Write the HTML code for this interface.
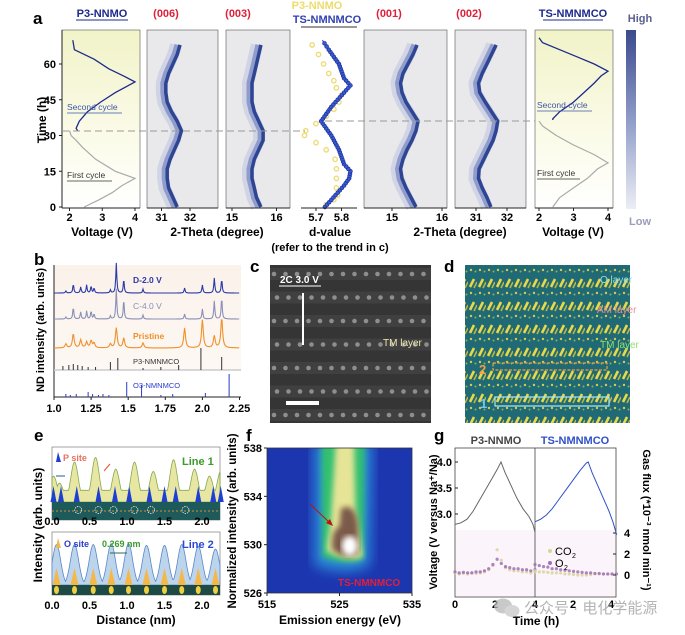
<!DOCTYPE html>
<html><head><meta charset="utf-8">
<style>
html,body{margin:0;padding:0;background:#fff;}
svg{display:block;font-family:"Liberation Sans","Noto Sans CJK SC",sans-serif;}
.b{font-weight:bold;}
</style></head>
<body>
<svg id="fig" width="685" height="635" viewBox="0 0 685 635" xmlns="http://www.w3.org/2000/svg">
<defs>
  <linearGradient id="ybg" x1="0" y1="0" x2="0" y2="1">
    <stop offset="0" stop-color="#f1f3c8"/><stop offset="0.6" stop-color="#fbfbe9"/><stop offset="1" stop-color="#ffffff"/>
  </linearGradient>
  <linearGradient id="cbar" x1="0" y1="0" x2="0" y2="1">
    <stop offset="0" stop-color="#3a4a8c"/><stop offset="0.5" stop-color="#8f9cc8"/><stop offset="1" stop-color="#eceef5"/>
  </linearGradient>
  <linearGradient id="bbg" x1="0" y1="0" x2="0" y2="1">
    <stop offset="0" stop-color="#fbf1ea"/><stop offset="1" stop-color="#fdf8f4"/>
  </linearGradient>
  <filter id="blur3"><feGaussianBlur stdDeviation="3"/></filter>
  <filter id="blur6"><feGaussianBlur stdDeviation="6"/></filter>
  <pattern id="dpat" width="9" height="23" patternUnits="userSpaceOnUse">
    <rect width="9" height="23" fill="#1f6a74"/>
    <line x1="2" y1="11" x2="6" y2="3" stroke="#e8d84a" stroke-width="2.6"/>
    <line x1="6" y1="12" x2="9" y2="6" stroke="#b8b840" stroke-width="1.6"/>
    <circle cx="3" cy="17" r="1.2" fill="#d8c850"/>
    <circle cx="7.5" cy="18.5" r="1" fill="#88b060"/>
  </pattern>
</defs>

<text x="33" y="24" font-size="17" class="b">a</text>
<g id="panelA"></g>

<text x="34" y="265" font-size="17" class="b">b</text>
<g id="panelB"></g>

<text x="250" y="272" font-size="17" class="b">c</text>
<g id="panelC"></g>

<text x="444" y="272" font-size="17" class="b">d</text>
<g id="panelD"></g>

<text x="34" y="441" font-size="17" class="b">e</text>
<g id="panelE"></g>

<text x="246" y="441" font-size="17" class="b">f</text>
<g id="panelF"></g>

<text x="434" y="441" font-size="17" class="b">g</text>
<g id="panelG"></g>

<g opacity="0.75">
  <ellipse cx="503" cy="606" rx="9" ry="7.5" fill="#b8b8b8"/>
  <ellipse cx="512" cy="611" rx="7.5" ry="6" fill="#c8c8c8"/>
  <text x="524" y="613" font-size="15" fill="#9a9a9a">公众号 · 电化学能源</text>
</g>
</svg>

<script>
// ---------------- DATA ----------------
const p3Time1 = [0,3,6,9,12,15,20,25,28,30,32];
const p3Volt1 = [2.45,2.9,3.3,3.6,4.0,3.4,2.8,2.4,2.2,2.05,2.0];
const p3Time2 = [32,33,36,40,44,48,52.5,55,58,62,65,66,70];
const p3Volt2 = [2.25,2.2,2.3,2.55,2.95,3.4,4.0,3.65,3.2,2.75,2.3,2.15,2.1];
const tsTime1 = [0,4,8,12,16,18.5,22,26,30,34,36];
const tsVolt1 = [2.4,2.6,3.0,3.4,3.7,4.0,3.6,3.0,2.5,2.1,2.0];
const tsTime2 = [36.5,37,40,44,48,52,55,57,60,63,66,69,71];
const tsVolt2 = [2.4,2.4,2.6,3.0,3.3,3.6,3.8,4.0,3.6,3.1,2.6,2.1,2.0];
const bandTime = [0,4,8,12,16,20,24,28,32,36,40,44,48,52,56,60,64,68];
const theta006 = [31.55,31.4,31.25,31.2,31.2,31.3,31.45,31.6,31.7,31.55,31.35,31.2,31.15,31.15,31.25,31.4,31.55,31.65];
const theta003 = [15.65,15.55,15.5,15.45,15.45,15.5,15.6,15.7,15.7,15.6,15.5,15.45,15.45,15.45,15.5,15.55,15.6,15.65];
const theta001 = [15.48,15.38,15.28,15.2,15.17,15.22,15.3,15.4,15.48,15.52,15.4,15.28,15.2,15.17,15.22,15.32,15.42,15.5];
const theta002 = [31.48,31.35,31.2,31.08,31.1,31.25,31.4,31.55,31.65,31.7,31.5,31.3,31.12,31.08,31.2,31.35,31.5,31.65];
const dTimeTS = [0,3,6,9,12,15,18,21,24,27,30,33,36,39,42,45,48,51,54,57,60,63,66,70];
const dValTS  = [5.735,5.76,5.785,5.81,5.83,5.835,5.81,5.8,5.79,5.775,5.76,5.74,5.72,5.74,5.76,5.785,5.81,5.835,5.81,5.8,5.79,5.77,5.75,5.725];
const dTimeP3 = [1,3,5,8,12,16,20,24,27,30,32,35,38,41,44,47,50,53,56,60,64,68];
const dValP3  = [5.74,5.77,5.785,5.78,5.78,5.78,5.775,5.74,5.7,5.655,5.66,5.7,5.74,5.77,5.79,5.8,5.78,5.77,5.75,5.73,5.71,5.685];
const timeTicks = [0,15,30,45,60];

const ndPeakPos = [1.08,1.13,1.18,1.22,1.25,1.27,1.38,1.42,1.47,1.6,1.88,2.0,2.08,2.13];
const ndD20  = [2,9,6,8,7,5,3,30,14,4,5,8,15,14];
const ndC40  = [2,12,7,8,8,5,3,30,20,4,5,10,18,22];
const ndPris = [4,14,8,6,7,5,4,20,10,5,20,28,12,30];
const p3StickPos = [1.06,1.1,1.13,1.16,1.19,1.23,1.28,1.38,1.43,1.6,1.72,1.84,1.99,2.13];
const p3StickH   = [4,5,6,5,4,3,3,8,12,2,3,5,22,13];
const o3StickPos = [1.08,1.11,1.15,1.23,1.26,1.3,1.33,1.37,1.49,1.59,1.72,1.8,2.02,2.18];
const o3StickH   = [3,2,3,5,3,2,3,2,15,12,2,3,4,23];
const bTicks = [1.0,1.25,1.5,1.75,2.0,2.25];
const bTickLabels = ["1.0","1.25","1.5","1.75","2.0","2.25"];

const line1Pos = [0.02,0.1,0.3,0.58,0.85,1.1,1.35,1.62,1.9,2.1,2.25];
const line1H   = [0.55,0.4,0.85,0.95,0.7,0.85,0.65,0.9,0.7,0.55,0.65];
const pSitePos = [0.02,0.12,0.33,0.62,0.84,1.03,1.3,1.5,1.65,1.95,2.15,2.25];
const line2Pos = [0.06,0.3,0.55,0.79,1.02,1.26,1.5,1.73,1.95,2.18];
const line2H   = [0.9,0.9,0.9,0.92,0.92,0.88,0.88,0.9,0.86,0.8];
const eTicks = [0,0.5,1.0,1.5,2.0];
const eTickLabels = ["0.0","0.5","1.0","1.5","2.0"];

const fYTicks = [526,530,534,538];
const fXTicks = [515,525,535];

const gP3Time = [0,0.3,0.6,0.9,1.2,1.5,1.8,2.1,2.3,2.5,2.8,3.1,3.4,3.7,3.9,4.0];
const gP3Volt = [2.8,2.83,2.9,3.05,3.25,3.45,3.65,3.85,4.0,3.8,3.55,3.3,3.1,2.95,2.8,2.65];
const gTSTime = [0,0.3,0.6,0.9,1.2,1.5,1.8,2.1,2.4,2.7,2.8,3.0,3.3,3.6,3.9,4.1,4.3];
const gTSVolt = [2.85,2.9,2.98,3.1,3.25,3.4,3.55,3.7,3.85,3.98,4.0,3.8,3.55,3.3,3.05,2.85,2.6];
const gCO2Left  = [0.2,0.1,0.15,0.1,0.2,0.15,0.2,0.3,0.5,0.9,2.4,1.4,0.7,0.5,0.4,0.4,0.3,0.3,0.2,0.3];
const gO2Left   = [0.3,0.2,0.25,0.2,0.2,0.3,0.3,0.4,0.6,1.0,1.5,1.1,0.8,0.7,0.6,0.6,0.5,0.5,0.4,0.5];
const gCO2Right = [0.4,0.3,0.3,0.25,0.2,0.2,0.2,0.1,0.1,0.05,0.0,0.0,0.0,0.05,0.1,0.1,0.1,0.1,0.1,0.1];
const gO2Right  = [1.0,0.9,0.8,0.75,0.6,0.6,0.5,0.45,0.4,0.35,0.3,0.25,0.2,0.2,0.15,0.15,0.1,0.1,0.1,0.1];
const gVTicks = [3.0,3.5,4.0];
const gFTicks = [0,2,4];
const gTimeTicks = [0,2,4];

// --------------- HELPERS ---------------
const NS="http://www.w3.org/2000/svg";
function mk(parent,tag,attrs,text){const e=document.createElementNS(NS,tag);for(const k in attrs)e.setAttribute(k,attrs[k]);if(text!==undefined)e.textContent=text;parent.appendChild(e);return e;}
function lin(d0,d1,r0,r1){return v=>r0+(v-d0)*(r1-r0)/(d1-d0);}
function pts(xs,ys,fx,fy){return xs.map((x,i)=>fx(x).toFixed(1)+","+fy(ys[i]).toFixed(1)).join(" ");}

// --------------- PANEL A ---------------
const A=document.getElementById('panelA');
const aTop=30,aBot=208;
const yT=lin(0,60,207,64);

function panelBox(x0,x1,fill){
  const r=mk(A,'rect',{x:x0,y:aTop,width:x1-x0,height:aBot-aTop,fill:fill,stroke:'#555','stroke-width':0.6});
  
  
}
function xTicks(x0,x1,vals,labels,f){
  mk(A,'line',{x1:x0,y1:aBot,x2:x1,y2:aBot,stroke:'#222','stroke-width':1});
  vals.forEach((v,i)=>{
    mk(A,'line',{x1:f(v),y1:aBot,x2:f(v),y2:aBot+3,stroke:'#222','stroke-width':1});
    const t=mk(A,'text',{x:f(v),y:aBot+13,'font-size':11,'text-anchor':'middle',class:'b'},labels[i]);
    
    
  });
}
function title(x,y,txt,col,ul){
  const t=mk(A,'text',{x:x,y:y,'font-size':11,'text-anchor':'middle',class:'b',fill:col},txt);
  
  
  if(ul){mk(A,'line',{x1:x-ul,y1:y+3,x2:x+ul,y2:y+3,stroke:col,'stroke-width':1});}
}

panelBox(62,140,'url(#ybg)');
const vxL=lin(2,4,69.5,135);
mk(A,'line',{x1:62,y1:aTop,x2:62,y2:aBot,stroke:'#222','stroke-width':1});
timeTicks.forEach(t=>{
  mk(A,'line',{x1:59,y1:yT(t),x2:62,y2:yT(t),stroke:'#222'});
  const lb=mk(A,'text',{x:56,y:yT(t)+4,'font-size':11,'text-anchor':'end',class:'b'},String(t));
  
  
});
const tl=mk(A,'text',{x:46,y:120,'font-size':12,'text-anchor':'middle',class:'b',transform:'rotate(-90 46 120)'},'Time (h)');


let l=mk(A,'polyline',{points:pts(p3Volt1,p3Time1,vxL,yT),fill:'none',stroke:'#aaa','stroke-width':1.2});


l=mk(A,'polyline',{points:pts(p3Volt2,p3Time2,vxL,yT),fill:'none',stroke:'#1d2a8c','stroke-width':1.3});


xTicks(62,140,[2,3,4],["2","3","4"],vxL);
mk(A,'text',{x:67,y:110,'font-size':8.5,fill:'#3b56a8'},'Second cycle');
mk(A,'line',{x1:67,y1:113,x2:122,y2:113,stroke:'#3b56a8','stroke-width':0.8});
mk(A,'text',{x:67,y:178,'font-size':8.5,fill:'#333'},'First cycle');
mk(A,'line',{x1:67,y1:181,x2:112,y2:181,stroke:'#333','stroke-width':0.8});
title(102,17,'P3-NNMO','#1d2a8c',26);
const vl1=mk(A,'text',{x:102,y:236,'font-size':12,'text-anchor':'middle',class:'b'},'Voltage (V)');



function heat(x0,x1,d0,d1,r0,r1,vals,tickVals,tickLabs,name,ttl,tx){
  panelBox(x0,x1,'#e9e9eb');
  const f=lin(d0,d1,r0,r1);
  const g=mk(A,'g',{});
  
  
  const p=pts(vals,bandTime,f,yT);
  mk(g,'polyline',{points:p,fill:'none',stroke:'#c4cae3','stroke-width':12,opacity:0.7,transform:'translate(-4,0)'});
  mk(g,'polyline',{points:p,fill:'none',stroke:'#7f8ec6','stroke-width':7,opacity:0.8,transform:'translate(-2,0)'});
  mk(g,'polyline',{points:p,fill:'none',stroke:'#2e4593','stroke-width':3.5});
  xTicks(x0,x1,tickVals,tickLabs,f);
  title(tx,17,ttl,'#e0203a',0);
}
heat(147,218,31,32,161.5,190,theta006,[31,32],["31","32"],'heatmap-006','(006)',166);
heat(226,290,15,16,232,276.5,theta003,[15,16],["15","16"],'heatmap-003','(003)',238);
heat(364,447,15,16,392,442,theta001,[15,16],["15","16"],'heatmap-001','(001)',389);
heat(455,526,31,32,476,507,theta002,[31,32],["31","32"],'heatmap-002','(002)',469);
const tt1=mk(A,'text',{x:217,y:236,'font-size':12,'text-anchor':'middle',class:'b'},'2-Theta (degree)');


const tt2=mk(A,'text',{x:460,y:236,'font-size':12,'text-anchor':'middle',class:'b'},'2-Theta (degree)');



const fd=lin(5.7,5.8,316,341.5);
dValP3.forEach((d,i)=>{const c=mk(A,'circle',{cx:fd(d),cy:yT(dTimeP3[i]),r:2.2,fill:'none',stroke:'#eedc7a','stroke-width':1.4});
  
  });
mk(A,'polyline',{points:pts(dValTS,dTimeTS,fd,yT),fill:'none',stroke:'#1f3fb0','stroke-width':1});
for(let i=0;i<dValTS.length-1;i++){
  for(let k=0;k<3;k++){
    const fr=k/3;
    const d=dValTS[i]+(dValTS[i+1]-dValTS[i])*fr, t=dTimeTS[i]+(dTimeTS[i+1]-dTimeTS[i])*fr;
    const c=mk(A,'circle',{cx:fd(d),cy:yT(t),r:1.9,fill:'#3a5ad0',stroke:'#1a2f9a','stroke-width':0.7});
    
    
  }
}
xTicks(301,357,[5.7,5.8],["5.7","5.8"],fd);
title(317,9,'P3-NNMO','#eedc6a',0);
title(327,23,'TS-NMNMCO','#3340b0',0);
mk(A,'line',{x1:301,y1:27,x2:357,y2:27,stroke:'#333','stroke-width':1});
const dl=mk(A,'text',{x:330,y:236,'font-size':12,'text-anchor':'middle',class:'b'},'d-value');


mk(A,'text',{x:330,y:251,'font-size':11,'text-anchor':'middle',class:'b'},'(refer to the trend in c)');

panelBox(535,613,'url(#ybg)');
const vxR=lin(2,4,539,608);
l=mk(A,'polyline',{points:pts(tsVolt1,tsTime1,vxR,yT),fill:'none',stroke:'#aaa','stroke-width':1.2});


l=mk(A,'polyline',{points:pts(tsVolt2,tsTime2,vxR,yT),fill:'none',stroke:'#1d2a8c','stroke-width':1.3});


xTicks(535,613,[2,3,4],["2","3","4"],vxR);
mk(A,'text',{x:537,y:108,'font-size':8.5,fill:'#3b56a8'},'Second cycle');
mk(A,'line',{x1:537,y1:111,x2:592,y2:111,stroke:'#3b56a8','stroke-width':0.8});
mk(A,'text',{x:537,y:176,'font-size':8.5,fill:'#333'},'First cycle');
mk(A,'line',{x1:537,y1:179,x2:580,y2:179,stroke:'#333','stroke-width':0.8});
title(573,17,'TS-NMNMCO','#1d2a8c',30);
const vl2=mk(A,'text',{x:573,y:236,'font-size':12,'text-anchor':'middle',class:'b'},'Voltage (V)');



mk(A,'line',{x1:62,y1:131,x2:305,y2:131,stroke:'#999','stroke-width':1,'stroke-dasharray':'7,4'});
mk(A,'line',{x1:325,y1:121,x2:535,y2:121,stroke:'#999','stroke-width':1,'stroke-dasharray':'7,4'});

const cb=mk(A,'rect',{x:626,y:30,width:10,height:179,fill:'url(#cbar)'});


mk(A,'text',{x:640,y:22,'font-size':11,'text-anchor':'middle',fill:'#5a6090',class:'b'},'High');
mk(A,'text',{x:640,y:225,'font-size':11,'text-anchor':'middle',fill:'#9a9cb8',class:'b'},'Low');

// --------------- PANEL B ---------------
const B=document.getElementById('panelB');
const bx=lin(1.0,2.25,54,239.5);
mk(B,'rect',{x:54,y:265,width:187,height:105,fill:'url(#bbg)'});
mk(B,'line',{x1:54,y1:265,x2:54,y2:397,stroke:'#222'});
mk(B,'line',{x1:54,y1:397,x2:241,y2:397,stroke:'#222'});
mk(B,'line',{x1:54,y1:370,x2:241,y2:370,stroke:'#ccc','stroke-width':1.5});
function ndTrace(base,h,col,name,w){
  const ps=[];
  for(let x=1.0;x<=2.251;x+=0.004){
    let y=0;ndPeakPos.forEach((p,i)=>{const g=w;y+=h[i]*g*g/((x-p)*(x-p)+g*g);});
    ps.push(bx(x).toFixed(1)+","+(base-y).toFixed(1));
  }
  const e=mk(B,'polyline',{points:ps.join(" "),fill:'none',stroke:col,'stroke-width':1.1});
  
  
}
ndTrace(293,ndD20,'#2a3aa8','nd-pattern-d-2v',0.004);
ndTrace(319,ndC40,'#8a90b8','nd-pattern-c-4v',0.004);
ndTrace(348,ndPris,'#f0902a','nd-pattern-pristine',0.007);
p3StickPos.forEach((p,i)=>{const s=mk(B,'line',{x1:bx(p),y1:370,x2:bx(p),y2:370-p3StickH[i],stroke:'#333','stroke-width':1});
  
  });
o3StickPos.forEach((p,i)=>{const s=mk(B,'line',{x1:bx(p),y1:397,x2:bx(p),y2:397-o3StickH[i],stroke:'#2a3ad0','stroke-width':1});
  
  });
mk(B,'text',{x:133,y:283,'font-size':8.5,fill:'#2a3aa8',class:'b'},'D-2.0 V');
mk(B,'text',{x:133,y:309,'font-size':8.5,fill:'#8a90b8'},'C-4.0 V');
mk(B,'text',{x:133,y:339,'font-size':8.5,fill:'#f0902a',class:'b'},'Pristine');
mk(B,'text',{x:133,y:364,'font-size':7.5,fill:'#333'},'P3-NMNMCO');
mk(B,'text',{x:133,y:388,'font-size':7.5,fill:'#2a3ad0'},'O3-NMNMCO');
bTicks.forEach((v,i)=>{
  mk(B,'line',{x1:bx(v),y1:397,x2:bx(v),y2:400,stroke:'#222'});
  const t=mk(B,'text',{x:bx(v),y:412,'font-size':11,'text-anchor':'middle',class:'b'},bTickLabels[i]);
  
  
});
const by=mk(B,'text',{x:44,y:330,'font-size':11,'text-anchor':'middle',class:'b',transform:'rotate(-90 44 330)'},'ND intensity (arb. units)');



// --------------- PANEL C ---------------
const C=document.getElementById('panelC');
mk(C,'rect',{x:270,y:265,width:161,height:158,fill:'#353535'});
for(let r=0;r<7;r++){
  const y=274+r*23.5;
  mk(C,'rect',{x:270,y:y-6,width:161,height:12,fill:'#444',opacity:0.8});
  for(let c=0;c<14;c++){mk(C,'circle',{cx:274+c*11.5+(r%2)*3,cy:y,r:2.3,fill:'#a8a8a8',opacity:0.75});}
}
mk(C,'text',{x:280,y:283,'font-size':10,fill:'#fff',class:'b'},'2C 3.0 V');
mk(C,'line',{x1:279,y1:286,x2:321,y2:286,stroke:'#fff','stroke-width':1});
mk(C,'line',{x1:303,y1:293,x2:303,y2:345,stroke:'#fff','stroke-width':2});
mk(C,'text',{x:383,y:346,'font-size':10,fill:'#f0e8b0'},'TM layer');
mk(C,'rect',{x:286,y:401,width:33,height:4,fill:'#fff'});

// --------------- PANEL D ---------------
const D=document.getElementById('panelD');
mk(D,'rect',{x:465,y:265,width:165,height:158,fill:'url(#dpat)'});
mk(D,'text',{x:600,y:283,'font-size':10,fill:'#8ee0ea'},'O layer');
mk(D,'text',{x:597,y:313,'font-size':10,fill:'#e89098'},'AM layer');
mk(D,'text',{x:600,y:348,'font-size':10,fill:'#90e070'},'TM layer');
mk(D,'text',{x:479,y:374,'font-size':13,fill:'#f0a040',class:'b'},'2');
mk(D,'rect',{x:493,y:363,width:114,height:7,fill:'none',stroke:'#f0a040','stroke-width':1.2,'stroke-dasharray':'3,1.5'});
mk(D,'text',{x:480,y:408,'font-size':13,fill:'#70c8f0',class:'b'},'1');
mk(D,'rect',{x:495,y:397,width:114,height:9,fill:'none',stroke:'#a8e8f8','stroke-width':1.2});

// --------------- PANEL E ---------------
const E=document.getElementById('panelE');
const ex=lin(0,1,52,127);
mk(E,'rect',{x:52,y:447,width:168,height:73,fill:'#fff',stroke:'#666','stroke-width':0.6});
(function(){
  const base=502, top=455;
  const ps=[ex(0)+","+base];
  for(let x=0;x<=2.24;x+=0.01){
    let y=0.25;line1Pos.forEach((p,i)=>{y=Math.max(y,line1H[i]*Math.exp(-((x-p)*(x-p))/(2*0.05*0.05)));});
    ps.push(ex(x).toFixed(1)+","+(base-y*(base-top)).toFixed(1));
  }
  ps.push(ex(2.24)+","+base);
  const a=mk(E,'polygon',{points:ps.join(" "),fill:'#e6e49a',stroke:'#7aa040','stroke-width':0.8,opacity:0.9});
  
  
})();
pSitePos.forEach(p=>{const t=mk(E,'polygon',{points:`${ex(p)-3},502 ${ex(p)},486 ${ex(p)+3},502`,fill:'#1f3fd0'});
  
  });
mk(E,'rect',{x:52,y:502,width:168,height:18,fill:'#1f5a5a'});
mk(E,'line',{x1:52,y1:511,x2:220,y2:511,stroke:'#c89040','stroke-width':1,'stroke-dasharray':'2,2'});
[0.35,0.62,0.82,1.1,1.32,1.78].forEach(p=>mk(E,'circle',{cx:ex(p),cy:510,r:3.5,fill:'none',stroke:'#fff','stroke-width':0.7,'stroke-dasharray':'1.5,1'}));
mk(E,'polygon',{points:'56,462 58,452 61,462',fill:'#1f3fd0'});
mk(E,'text',{x:63,y:461,'font-size':9,fill:'#e87060',class:'b'},'P site');
mk(E,'text',{x:182,y:465,'font-size':11,fill:'#3a9a2a',class:'b'},'Line 1');
mk(E,'line',{x1:104,y1:471,x2:110,y2:464,stroke:'#e85030','stroke-width':1});
mk(E,'line',{x1:56,y1:476,x2:65,y2:476,stroke:'#1f5aa0','stroke-width':1});
mk(E,'rect',{x:52,y:532,width:168,height:63,fill:'#fff',stroke:'#666','stroke-width':0.6});
(function(){
  const base=585, top=540;
  let ps=[ex(0)+","+base];
  for(let x=0;x<=2.24;x+=0.01){
    let y=0;line2Pos.forEach((p,i)=>{y=Math.max(y,line2H[i]*Math.exp(-((x-p)*(x-p))/(2*0.055*0.055)));});
    ps.push(ex(x).toFixed(1)+","+(base-y*(base-top)).toFixed(1));
  }
  ps.push(ex(2.24)+","+base);
  const a=mk(E,'polygon',{points:ps.join(" "),fill:'#bcd4ec',stroke:'#5a88c8','stroke-width':0.8});
  
  
  line2Pos.forEach(p=>{const o=mk(E,'polygon',{points:`${ex(p)-4},585 ${ex(p)},568 ${ex(p)+4},585`,fill:'#f4b84a'});
    
    });
})();
mk(E,'rect',{x:52,y:585,width:168,height:10,fill:'#1d4a44'});
line2Pos.forEach(p=>mk(E,'ellipse',{cx:ex(p),cy:590,rx:2.5,ry:4,fill:'#f0d040'}));
mk(E,'polygon',{points:'56,548 58,538 61,548',fill:'#f4b84a'});
mk(E,'text',{x:64,y:547,'font-size':9,fill:'#2a3ad0',class:'b'},'O site');
mk(E,'text',{x:102,y:547,'font-size':9,fill:'#3a9a2a',class:'b'},'0.269 nm');
mk(E,'line',{x1:110,y1:553,x2:127,y2:553,stroke:'#2a6a5a','stroke-width':1});
mk(E,'text',{x:182,y:548,'font-size':11,fill:'#2a4ad0',class:'b'},'Line 2');
eTicks.forEach((v,i)=>{
  const t1=mk(E,'text',{x:ex(v),y:525,'font-size':11,'text-anchor':'middle',class:'b'},eTickLabels[i]);
  
  
  const t2=mk(E,'text',{x:ex(v),y:609,'font-size':11,'text-anchor':'middle',class:'b'},eTickLabels[i]);
  
  
});
const ext=mk(E,'text',{x:136,y:624,'font-size':12,'text-anchor':'middle',class:'b'},'Distance (nm)');


const eyt=mk(E,'text',{x:42,y:525,'font-size':12,'text-anchor':'middle',class:'b',transform:'rotate(-90 42 525)'},'Intensity (arb. units)');



// --------------- PANEL F ---------------
const F=document.getElementById('panelF');
const fx=lin(515,535,267,412), fy=lin(526,538,593,448);
const fc=mk(F,'g',{});


mk(fc,'rect',{x:267,y:448,width:145,height:145,fill:'#1c36b0'});
const clip=mk(F,'clipPath',{id:'fclip'});mk(clip,'rect',{x:267,y:448,width:145,height:145});
const fg=mk(fc,'g',{'clip-path':'url(#fclip)'});
mk(fg,'path',{d:`M${fx(521.5)},${fy(538.5)} L${fx(529.5)},${fy(538.5)} L${fx(529.2)},${fy(528.3)} Q${fx(526)},${fy(527.3)} ${fx(521.5)},${fy(528.3)} Z`,fill:'#2a8ad8',filter:'url(#blur6)'});
mk(fg,'path',{d:`M${fx(522.5)},${fy(538.5)} L${fx(528.5)},${fy(538.5)} L${fx(528.3)},${fy(528.8)} Q${fx(526)},${fy(528.2)} ${fx(522.6)},${fy(529)} Z`,fill:'#30c070',filter:'url(#blur3)'});
mk(fg,'path',{d:`M${fx(524.5)},${fy(538.5)} L${fx(527)},${fy(538.5)} L${fx(527.2)},${fy(533)} L${fx(528.2)},${fy(529)} Q${fx(526)},${fy(528.5)} ${fx(523.2)},${fy(529.5)} L${fx(523.8)},${fy(532)} Z`,fill:'#e6e496',filter:'url(#blur3)'});
mk(fg,'path',{d:`M${fx(525.2)},${fy(533)} Q${fx(527.5)},${fy(533.6)} ${fx(527.6)},${fy(531)} L${fx(527.6)},${fy(529.3)} Q${fx(526)},${fy(528.6)} ${fx(524)},${fy(529.6)} Q${fx(523.8)},${fy(531.2)} ${fx(525)},${fy(531.5)} Z`,fill:'#7a5a48',filter:'url(#blur3)'});
mk(fg,'ellipse',{cx:fx(526.4),cy:fy(529.9),rx:8,ry:10,fill:'#ffffff',filter:'url(#blur3)'});
mk(F,'line',{x1:310,y1:504,x2:331,y2:524,stroke:'#c01010','stroke-width':1});
mk(F,'polygon',{points:'333,526 326,523 330,519',fill:'#c01010'});
mk(F,'text',{x:338,y:586,'font-size':10,fill:'#e0203a',class:'b'},'TS-NMNMCO');
mk(F,'rect',{x:267,y:448,width:145,height:145,fill:'none',stroke:'#333','stroke-width':0.8});
fYTicks.forEach(v=>{
  mk(F,'line',{x1:264,y1:fy(v),x2:267,y2:fy(v),stroke:'#222'});
  const t=mk(F,'text',{x:262,y:fy(v)+4,'font-size':11,'text-anchor':'end',class:'b'},String(v));
  
  
});
fXTicks.forEach(v=>{
  mk(F,'line',{x1:fx(v),y1:593,x2:fx(v),y2:596,stroke:'#222'});
  const t=mk(F,'text',{x:fx(v),y:608,'font-size':11,'text-anchor':'middle',class:'b'},String(v));
  
  
});
const fxt=mk(F,'text',{x:340,y:624,'font-size':12,'text-anchor':'middle',class:'b'},'Emission energy (eV)');


const fyt=mk(F,'text',{x:236,y:521,'font-size':11.5,'text-anchor':'middle',class:'b',transform:'rotate(-90 236 521)'},'Normalized intensity (arb. units)');



// --------------- PANEL G ---------------
const G=document.getElementById('panelG');
const gxL=lin(0,4,455,535), gxR=lin(0,4,535,611);
const gy=lin(3,4,514,462), gf=lin(0,4,575,533);
mk(G,'rect',{x:455,y:448,width:161,height:149,fill:'#fff',stroke:'#444','stroke-width':0.8});
mk(G,'rect',{x:456,y:530,width:159,height:66,fill:'#fbf4fa'});
mk(G,'line',{x1:535,y1:448,x2:535,y2:597,stroke:'#444','stroke-width':0.8});
l=mk(G,'polyline',{points:pts(gP3Time,gP3Volt,gxL,gy),fill:'none',stroke:'#666','stroke-width':1});


l=mk(G,'polyline',{points:pts(gTSTime,gTSVolt,gxR,gy),fill:'none',stroke:'#3050c8','stroke-width':1});


function gasPts(arr,fxx,col,name,dx){
  arr.forEach((v,i)=>{const t=i*4/(arr.length-1)*(dx||1);
    const c=mk(G,'circle',{cx:fxx(t),cy:gf(v),r:1.6,fill:col,opacity:0.85});
    
    });
}
gasPts(gCO2Left,gxL,'#d8d49a','co2-point');
gasPts(gO2Left,gxL,'#a070b8','o2-point');
gasPts(gCO2Right,gxR,'#d8d49a','co2-point',1.07);
gasPts(gO2Right,gxR,'#a070b8','o2-point',1.07);
gVTicks.forEach(v=>{
  mk(G,'line',{x1:455,y1:gy(v),x2:458,y2:gy(v),stroke:'#222'});
  const t=mk(G,'text',{x:452,y:gy(v)+4,'font-size':11,'text-anchor':'end',class:'b'},v.toFixed(1));
  
  
});
gFTicks.forEach(v=>{
  mk(G,'line',{x1:613,y1:gf(v),x2:616,y2:gf(v),stroke:'#222'});
  const t=mk(G,'text',{x:627,y:gf(v)+4,'font-size':11,'text-anchor':'middle',class:'b'},String(v));
  
  
});
gTimeTicks.forEach(v=>{
  const t=mk(G,'text',{x:gxL(v),y:608,'font-size':11,'text-anchor':'middle',class:'b'},String(v));
  
  
  if(v>0){const t2=mk(G,'text',{x:gxR(v),y:608,'font-size':11,'text-anchor':'middle',class:'b'},String(v));
    
    }
});
mk(G,'text',{x:496,y:444,'font-size':11,'text-anchor':'middle',fill:'#444',class:'b'},'P3-NNMO');
mk(G,'text',{x:575,y:444,'font-size':11,'text-anchor':'middle',fill:'#3050c8',class:'b'},'TS-NMNMCO');
mk(G,'circle',{cx:550,cy:551,r:2,fill:'#d8d49a'});
mk(G,'text',{x:555,y:555,'font-size':11},'CO');
mk(G,'text',{x:572,y:558,'font-size':7},'2');
mk(G,'circle',{cx:550,cy:563,r:2,fill:'#a070b8'});
mk(G,'text',{x:555,y:567,'font-size':11},'O');
mk(G,'text',{x:564,y:570,'font-size':7},'2');
const gxt=mk(G,'text',{x:536,y:625,'font-size':12,'text-anchor':'middle',class:'b'},'Time (h)');


const gyt=mk(G,'text',{x:437,y:522,'font-size':11,'text-anchor':'middle',class:'b',transform:'rotate(-90 437 522)'},'Voltage (V versus Na⁺/Na)');


const gyr=mk(G,'text',{x:643,y:520,'font-size':11,'text-anchor':'middle',class:'b',transform:'rotate(90 643 520)'},'Gas flux (*10⁻³ nmol min⁻¹)');


</script>
</body></html>
